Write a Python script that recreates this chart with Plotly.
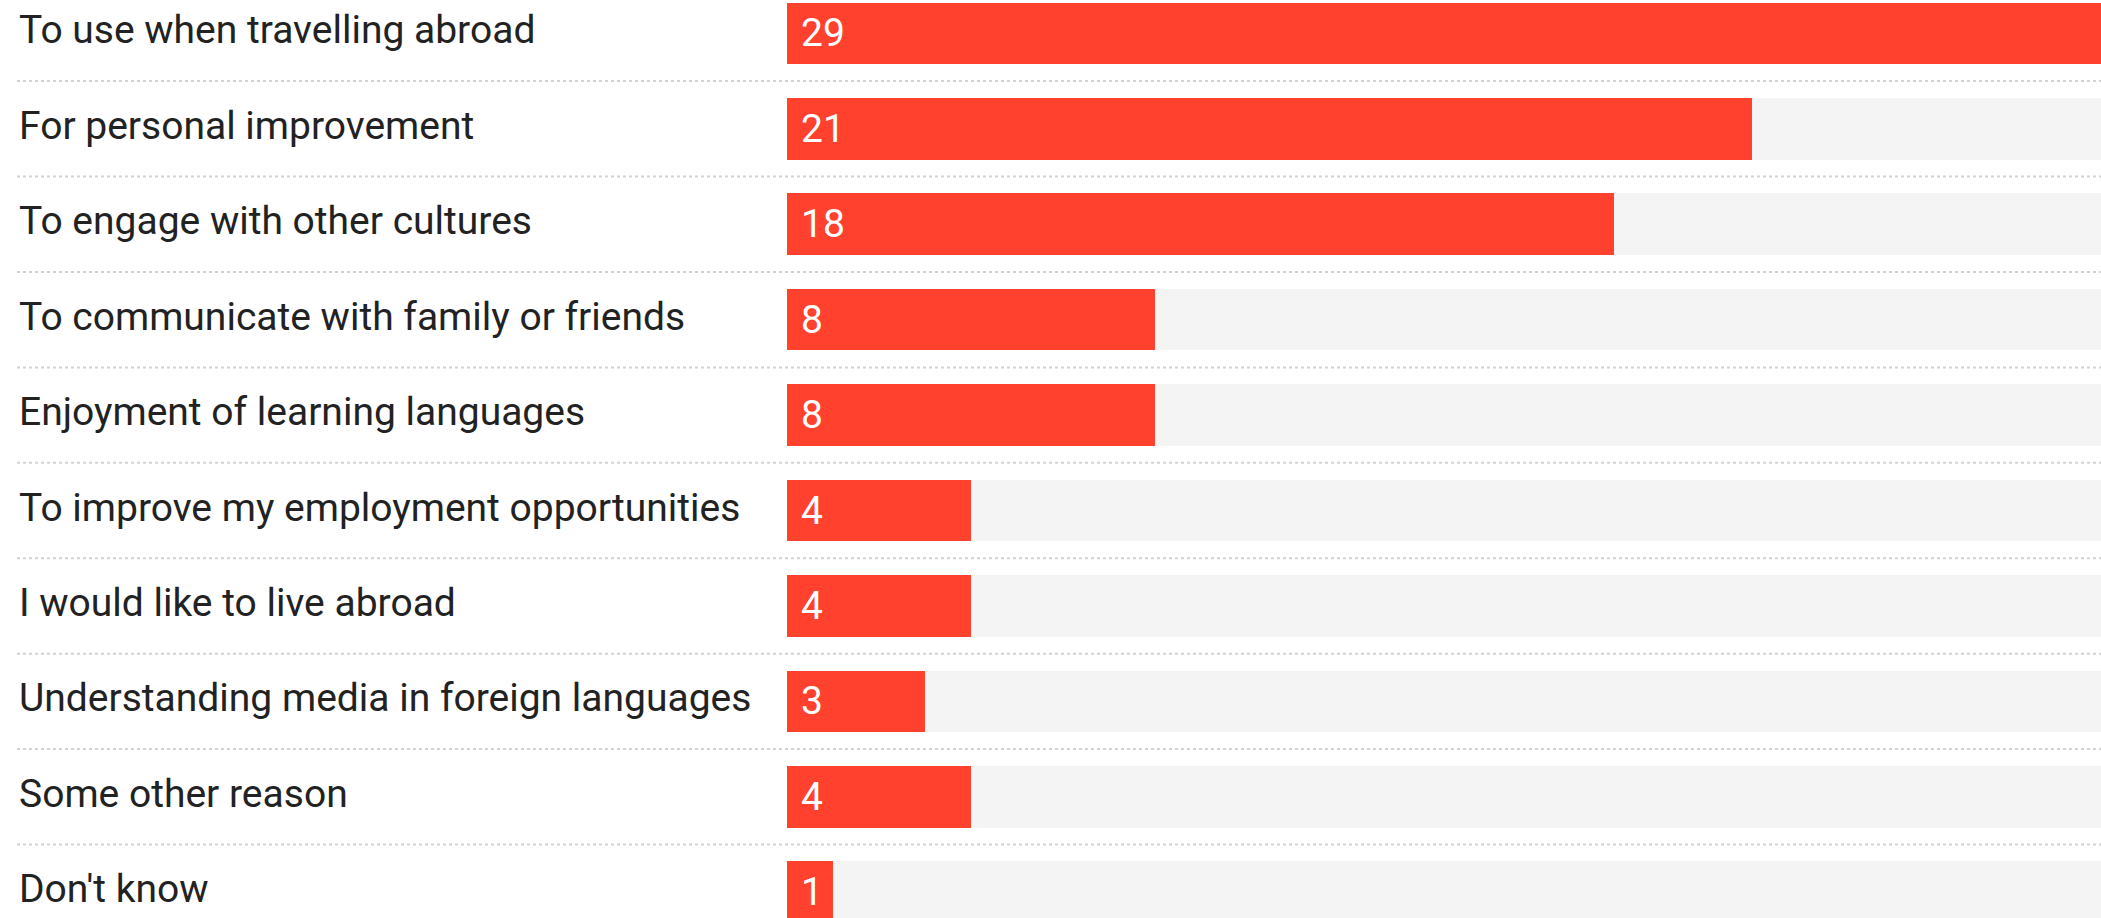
import plotly.graph_objects as go

categories = [
    "To use when travelling abroad",
    "For personal improvement",
    "To engage with other cultures",
    "To communicate with family or friends",
    "Enjoyment of learning languages",
    "To improve my employment opportunities",
    "I would like to live abroad",
    "Understanding media in foreign languages",
    "Some other reason",
    "Don't know",
]
values = [29, 21, 18, 8, 8, 4, 4, 3, 4, 1]

W, H = 2101, 918
BAR_LEFT = 787
RED = "#ff412d"
GREY = "#f4f4f4"
FONT = "Roboto"

vmax = max(values)

fig = go.Figure()
fig.add_trace(go.Bar(
    y=categories, x=[vmax] * len(categories), orientation="h",
    marker=dict(color=GREY, line=dict(width=0)), width=0.645,
    hoverinfo="skip", showlegend=False, cliponaxis=True,
))
fig.add_trace(go.Bar(
    y=categories, x=values, orientation="h",
    marker=dict(color=RED, line=dict(width=0)), width=0.645,
    showlegend=False, cliponaxis=True,
))

annotations = []
for c, v in zip(categories, values):
    annotations.append(dict(
        x=17 / W, xref="paper", y=c, yref="y", text=c, showarrow=False,
        xanchor="left", yanchor="middle", yshift=3,
        font=dict(family=FONT, size=39, color="#222222"),
    ))
    annotations.append(dict(
        x=0, xref="x", y=c, yref="y", text=str(v), showarrow=False,
        xanchor="left", yanchor="middle", xshift=12,
        font=dict(family=FONT, size=39, color="#ffffff"),
    ))

shapes = []
for i in range(len(categories) - 1):
    shapes.append(dict(
        type="line", xref="paper", x0=17 / W, x1=1, yref="y",
        y0=i + 0.5, y1=i + 0.5,
        line=dict(color="#d2d2d2", width=2, dash="dot"), layer="below",
    ))

fig.update_layout(
    width=W, height=H,
    margin=dict(l=0, r=0, t=0, b=0),
    paper_bgcolor="white", plot_bgcolor="white",
    barmode="overlay", bargap=0,
    xaxis=dict(domain=[BAR_LEFT / W, 1], range=[0, 28.6], visible=False, fixedrange=True),
    yaxis=dict(categoryorder="array", categoryarray=categories,
               range=[9.27, -0.35], visible=False, fixedrange=True),
    annotations=annotations, shapes=shapes,
)

fig.write_html(
    "out.html",
    config={"displayModeBar": False},
    post_script="document.body.style.margin='0';document.body.style.overflow='hidden';",
)
